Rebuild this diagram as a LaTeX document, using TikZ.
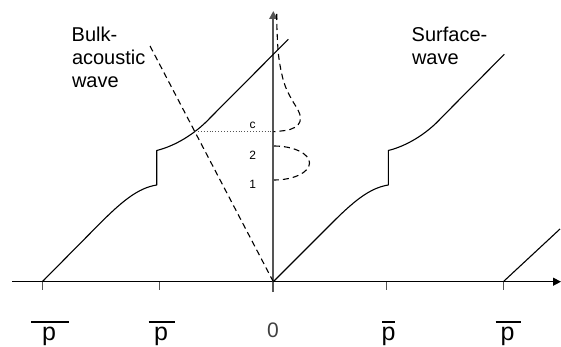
\documentclass[tikz,border=0pt]{standalone}
\usepackage{fontspec}
\setmainfont{Liberation Sans}
\usetikzlibrary{arrows.meta}
\definecolor{axisgray}{HTML}{555555}
\begin{document}
\begin{tikzpicture}[x=1pt,y=-1pt,
  curve/.style={line width=1.1pt, black, line join=round},
  dashline/.style={line width=1.1pt, black, dash pattern=on 6pt off 4pt},
  dotline/.style={line width=0.9pt, axisgray, dash pattern=on 0.9pt off 2pt},
  tick/.style={line width=1.3pt, axisgray},
  biglbl/.style={inner sep=0pt, anchor=base west, font=\fontsize{20}{23}\selectfont},
  smalllbl/.style={inner sep=0pt, font=\fontsize{12}{14}\selectfont},
  plbl/.style={inner sep=0pt, anchor=base, font=\fontsize{25}{29}\selectfont},
  fracbar/.style={line width=2.4pt, black}]
\useasboundingbox (0,0) rectangle (561,347);

% axes
\coordinate (hstart) at (12,281.7);
\coordinate (hend) at (561,281.7);
\coordinate (vbot) at (273.3,292);
\coordinate (vtop) at (273.3,11);
\coordinate (O) at (273.3,281.7);
\draw[line width=1.3pt, -{Triangle[length=8pt,width=8pt]}] (hstart) -- (hend);
\draw[line width=2pt, axisgray, -{Triangle[length=8pt,width=8pt]}] (vbot) -- (vtop);

% ticks
\foreach \x in {42.3,159.3,386.7,503.3}
  \draw[tick] (\x,282) -- (\x,290);

% left dispersion curve
\draw[curve] (42.3,281.7) -- (96.7,226.7)
  .. controls (122,201) and (138,188) .. (156.7,185) -- (156.7,150.5)
  .. controls (175,146) and (195,134) .. (210,118) -- (288.3,39.3);

% right dispersion curve
\draw[curve] (O) -- (328.3,226.7)
  .. controls (353.6,201) and (369.6,188) .. (388.3,185) -- (388.3,150.5)
  .. controls (406.6,146) and (426.6,134) .. (441.6,117.5) -- (504.3,54.3);

% third branch
\coordinate (p5) at (503.3,281.7);
\coordinate (p5end) at (560,229);
\draw[curve] (p5) -- (p5end);

% bulk acoustic wave line
\coordinate (bulkend) at (149.5,45);
\draw[dashline] (O) -- (bulkend);

% dotted level line
\coordinate (cpt) at (195,131.7);
\coordinate (caxis) at (273.3,131.7);
\draw[dotline] (cpt) -- (caxis);

% surface wave amplitude profile
\draw[dashline] plot[smooth, tension=0.6] coordinates {
  (276.7,14) (277,30) (278.5,55) (282,75) (286,88) (292,100) (298,110)
  (300.5,118) (298,125) (290,129.5) (281,131) (273.3,131.7)};

% half ellipse
\coordinate (ell) at (274,146);
\draw[dashline] (ell) arc[start angle=-90, end angle=90, x radius=35.5, y radius=17];

% small labels
\node[smalllbl] (lc) at (252.7,125) {c};
\node[smalllbl] (l2) at (252.7,155.5) {2};
\node[smalllbl] (l1) at (252.7,184) {1};

% big labels
\node[biglbl] (bulk1) at (71.5,41.7) {Bulk-};
\node[biglbl] (bulk2) at (71.8,65) {acoustic};
\node[biglbl] (bulk3) at (71.8,87.7) {wave};
\node[biglbl] (surf1) at (411.5,41.7) {Surface-};
\node[biglbl] (surf2) at (411.8,64.3) {wave};

% bottom labels
\draw[fracbar] (31,321.7) -- (69,321.7);
\draw[fracbar] (148.5,321.7) -- (175,321.7);
\draw[fracbar] (382.3,321.7) -- (395,321.7);
\draw[fracbar] (495.5,321.7) -- (521,321.7);
\node[plbl] (pa) at (49,340.5) {p};
\node[plbl] (pb) at (161,340.5) {p};
\node[plbl] (pc) at (388.5,340.5) {p};
\node[plbl] (pd) at (507.5,340.5) {p};
\node[inner sep=0pt, anchor=base, font=\fontsize{21}{24}\selectfont, text=black!75] (zero) at (273,337.2) {0};
\end{tikzpicture}
\end{document}
